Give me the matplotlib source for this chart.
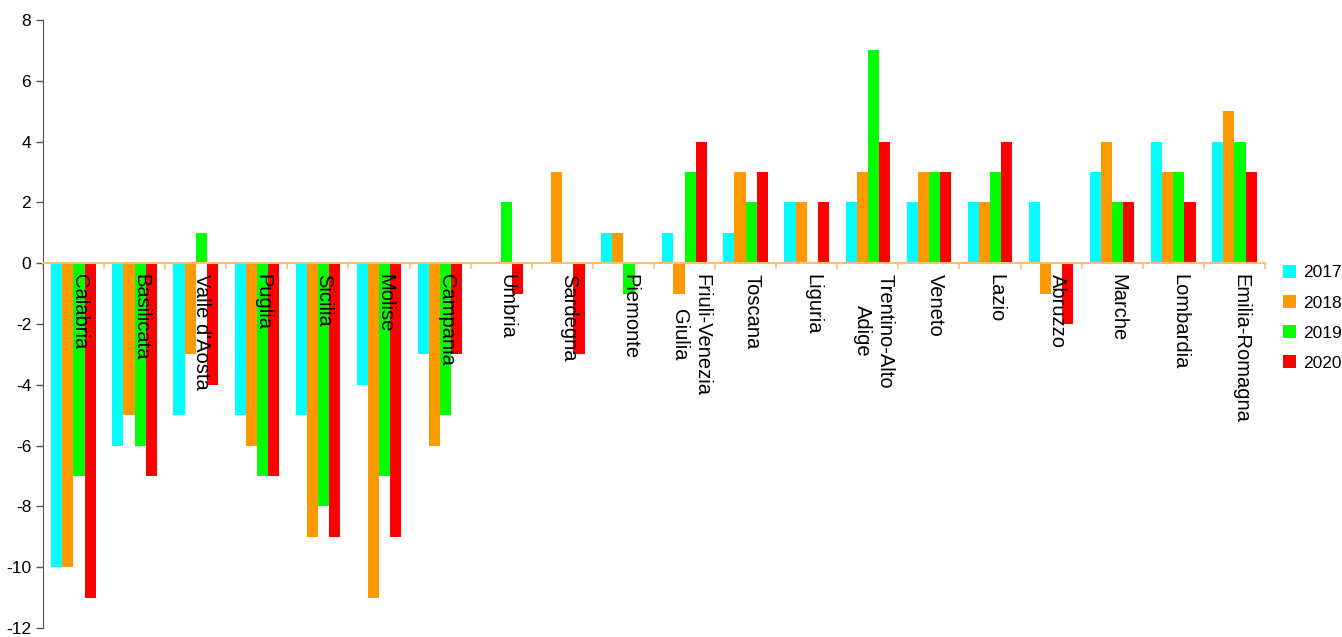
import matplotlib
matplotlib.use("Agg")
import matplotlib.pyplot as plt
import numpy as np
from matplotlib.patches import Patch

plt.rcParams["font.family"] = ["Liberation Sans", "DejaVu Sans"]
plt.rcParams["axes.unicode_minus"] = False

# Dati: variazione per regione
regioni = [
    "Calabria", "Basilicata", "Valle d'Aosta", "Puglia", "Sicilia", "Molise",
    "Campania", "Umbria", "Sardegna", "Piemonte", "Friuli-Venezia\nGiulia",
    "Toscana", "Liguria", "Trentino-Alto\nAdige", "Veneto", "Lazio",
    "Abruzzo", "Marche", "Lombardia", "Emilia-Romagna",
]
v2017 = [-10, -6, -5, -5, -5, -4, -3, 0, 0, 1, 1, 1, 2, 2, 2, 2, 2, 3, 4, 4]
v2018 = [-10, -5, -3, -6, -9, -11, -6, 0, 3, 1, -1, 3, 2, 3, 3, 2, -1, 4, 3, 5]
v2019 = [-7, -6, 1, -7, -8, -7, -5, 2, 0, -1, 3, 2, 0, 7, 3, 3, 0, 2, 3, 4]
v2020 = [-11, -7, -4, -7, -9, -9, -3, -1, -3, 0, 4, 3, 2, 4, 3, 4, -2, 2, 2, 3]
anni = ["2017", "2018", "2019", "2020"]
colori = ["#00FFFF", "#FF9900", "#00FF00", "#FF0000"]

serie = [v2017, v2018, v2019, v2020]

fig = plt.figure(figsize=(13.42, 6.37), dpi=100)
ax = fig.add_axes([0.032, 0.0141, 0.9106, 0.9545])

x = np.arange(len(regioni))
w = 0.182
for k, (vals, col) in enumerate(zip(serie, colori)):
    ax.bar(x + (k - 1.5) * w, vals, width=w, color=col, linewidth=0)

# etichette delle regioni sotto lo zero
for i, nome in enumerate(regioni):
    ax.text(i + 0.1, -0.35, nome, rotation=-90, ha="center", va="top",
            multialignment="center", fontsize=14.5, color="black")

ax.set_xlim(-0.5, len(regioni) - 0.5)
ax.set_ylim(-12, 8)
ax.set_yticks(np.arange(-12, 9, 2))
ax.tick_params(axis="y", labelsize=12.5, direction="out", length=5,
               color="#555555", width=1)

ax.spines["top"].set_visible(False)
ax.spines["right"].set_visible(False)
ax.spines["left"].set_color("#555555")
ax.spines["bottom"].set_position(("data", 0))
ax.spines["bottom"].set_color("#FFC070")
ax.spines["bottom"].set_linewidth(1.5)
ax.set_xticks(np.arange(len(regioni) + 1) - 0.5)
ax.set_xticklabels([])
ax.tick_params(axis="x", direction="out", length=4, color="#FFC070", width=1.2)

handles = [Patch(facecolor=c, edgecolor="none", label=a) for a, c in zip(anni, colori)]
fig.legend(handles=handles, loc="upper left", bbox_to_anchor=(0.951, 0.595),
           frameon=False, fontsize=12.5, handlelength=0.75, handleheight=0.75,
           handletextpad=0.4, labelspacing=0.85, borderaxespad=0)

fig.savefig("out.png", dpi=100)
